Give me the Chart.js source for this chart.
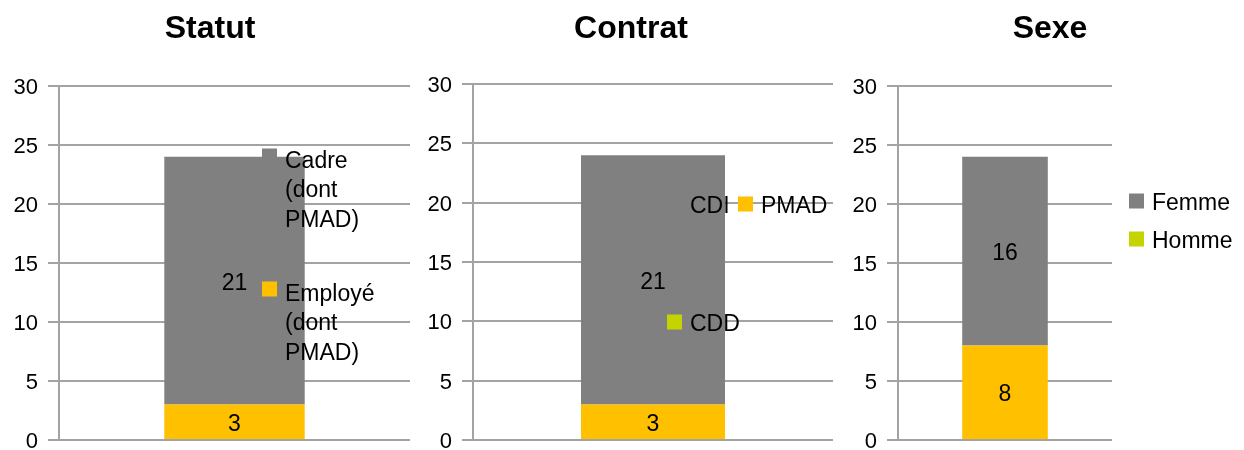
<!DOCTYPE html>
<html>
<head>
<meta charset="utf-8">
<script src="https://cdn.jsdelivr.net/npm/chart.js@4.4.0/dist/chart.umd.min.js"></script>
<style>
  html, body { margin: 0; padding: 0; background: #ffffff; }
  body { width: 1244px; height: 450px; position: relative; overflow: hidden; }
  .panel { position: absolute; top: 0; height: 450px; }
  canvas { display: block; }
</style>
</head>
<body>
<div class="panel" style="left:0px;width:420px"><canvas id="statut" width="420" height="450"></canvas></div>
<div class="panel" style="left:420px;width:420px"><canvas id="contrat" width="420" height="450"></canvas></div>
<div class="panel" style="left:840px;width:404px"><canvas id="sexe" width="404" height="450"></canvas></div>

<script>
// Headcount breakdowns: one stacked column per panel (bottom segment first)
const titles = ['Statut', 'Contrat', 'Sexe'];

const statutLabels = ['Employé (dont PMAD)', 'Cadre (dont PMAD)'];
const statutValues = [3, 21];

const contratLabels = ['CDD', 'PMAD', 'CDI'];
const contratValues = [0, 3, 21];

const sexeLabels = ['Homme', 'Femme'];
const sexeValues = [8, 16];

const yMin = 0, yMax = 30, yStep = 5;

const GREY = '#808080', ORANGE = '#FFC000', LIME = '#C5D300';
const GRID = '#a3a3a3';
const FONT = '"Liberation Sans", Arial, sans-serif';
const TEXT_DY = 2.5; // nudge so glyphs sit centred on their anchor

// Split legend text into lines no wider than maxWidth
function wrapText(ctx, text, maxWidth) {
  const words = text.split(' ');
  const lines = [];
  let cur = '';
  words.forEach(w => {
    const test = cur ? cur + ' ' + w : w;
    if (cur && ctx.measureText(test).width > maxWidth) {
      lines.push(cur);
      cur = w;
    } else {
      cur = test;
    }
  });
  if (cur) lines.push(cur);
  return lines;
}

// Panel heading
const panelTitle = {
  id: 'panelTitle',
  afterDraw(chart, args, opts) {
    const ctx = chart.ctx;
    ctx.save();
    ctx.font = 'bold 32px ' + FONT;
    ctx.fillStyle = '#000';
    ctx.textAlign = 'center';
    ctx.textBaseline = 'middle';
    ctx.fillText(opts.text, opts.x, opts.y);
    ctx.restore();
  }
};

// Value written in the middle of each stacked segment
const segmentValues = {
  id: 'segmentValues',
  afterDatasetsDraw(chart) {
    const ctx = chart.ctx;
    ctx.save();
    ctx.font = '23px ' + FONT;
    ctx.fillStyle = '#000';
    ctx.textAlign = 'center';
    ctx.textBaseline = 'middle';
    chart.data.datasets.forEach((ds, di) => {
      const meta = chart.getDatasetMeta(di);
      meta.data.forEach((el, i) => {
        const v = ds.data[i];
        if (!v) return;
        ctx.fillText(String(v), el.x, (el.y + el.base) / 2 + TEXT_DY);
      });
    });
    ctx.restore();
  }
};

// Legend laid over the plot, top series first
const overlayLegend = {
  id: 'overlayLegend',
  afterDraw(chart, args, opts) {
    const ctx = chart.ctx;
    const items = chart.data.datasets.slice().reverse();
    ctx.save();
    ctx.font = '23px ' + FONT;
    ctx.textAlign = 'left';
    ctx.textBaseline = 'middle';
    items.forEach((ds, i) => {
      const col = i % opts.columns;
      const row = Math.floor(i / opts.columns);
      const mx = opts.x + col * opts.colStep;
      const cy = opts.y + row * opts.rowStep;
      ctx.fillStyle = ds.legendColor || ds.backgroundColor;
      ctx.fillRect(mx, cy - 7.5 + opts.boxShift, 15, 15);
      ctx.fillStyle = '#000';
      wrapText(ctx, ds.label, opts.maxWidth).forEach((line, k) => {
        ctx.fillText(line, mx + 23, cy + k * opts.lineHeight + TEXT_DY);
      });
    });
    ctx.restore();
  }
};

function makePanel(id, title, labels, values, barColors, legendColors, cfg) {
  const datasets = labels.map((lab, i) => ({
    label: lab,
    data: [values[i]],
    backgroundColor: barColors[i],
    legendColor: legendColors[i],
    borderWidth: 0,
    barPercentage: 0.4,
    categoryPercentage: 1.0
  }));
  return new Chart(document.getElementById(id), {
    type: 'bar',
    data: { labels: [title], datasets },
    plugins: [panelTitle, segmentValues, overlayLegend],
    options: {
      responsive: false,
      animation: false,
      layout: { padding: { top: cfg.top, right: cfg.right, bottom: 10, left: 0 } },
      scales: {
        x: { display: false, stacked: true },
        y: {
          stacked: true,
          min: yMin,
          max: yMax,
          ticks: { stepSize: yStep, color: '#000', font: { family: FONT, size: 22 }, padding: 10, labelOffset: 2 },
          grid: { color: GRID, lineWidth: 2, tickLength: 11 },
          border: { display: true, color: GRID, width: 2 },
          afterFit(scale) {
            scale.width = cfg.axisX;
            scale.paddingTop = 0;
            scale.paddingBottom = 0;
          }
        }
      },
      plugins: {
        legend: { display: false },
        tooltip: { enabled: false },
        title: { display: false },
        panelTitle: { text: title, x: cfg.titleX, y: 29 },
        overlayLegend: cfg.legend
      }
    }
  });
}

makePanel('statut', titles[0], statutLabels, statutValues,
  [ORANGE, GREY], [ORANGE, GREY],
  { axisX: 59, right: 10, top: 86, titleX: 210,
    legend: { x: 262, y: 159, columns: 1, colStep: 0, rowStep: 133, lineHeight: 29.5, maxWidth: 100, boxShift: -3 } });

makePanel('contrat', titles[1], contratLabels, contratValues,
  [LIME, ORANGE, GREY], [LIME, ORANGE, GREY],
  { axisX: 53, right: 7, top: 84, titleX: 211,
    legend: { x: 247, y: 204, columns: 2, colStep: 71, rowStep: 118, lineHeight: 29.5, maxWidth: 200, boxShift: 0 } });

makePanel('sexe', titles[2], sexeLabels, sexeValues,
  [ORANGE, GREY], [LIME, GREY],
  { axisX: 58, right: 132, top: 86, titleX: 210,
    legend: { x: 289, y: 201, columns: 1, colStep: 0, rowStep: 38, lineHeight: 29.5, maxWidth: 200, boxShift: 0 } });
</script>
</body>
</html>
